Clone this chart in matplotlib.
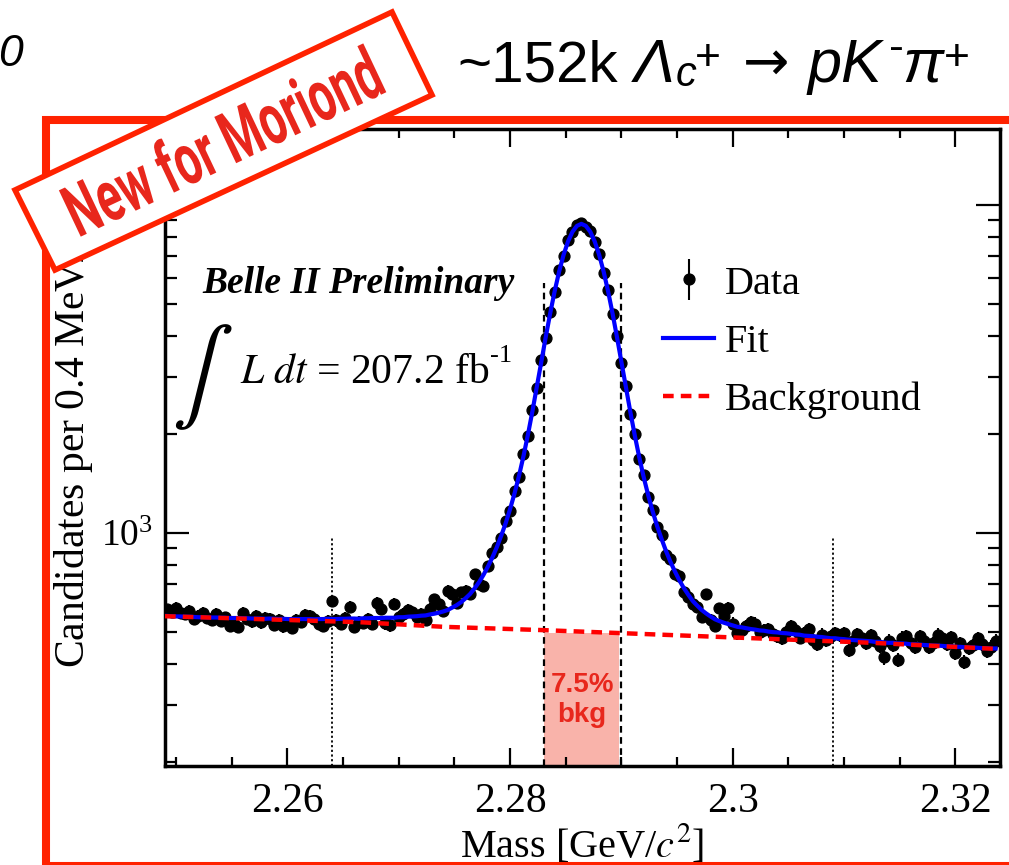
import numpy as np
import matplotlib
matplotlib.use('Agg')
import matplotlib.pyplot as plt
from matplotlib.ticker import MultipleLocator, LogLocator, NullFormatter, FuncFormatter
from matplotlib.patches import Rectangle, Polygon, PathPatch
from matplotlib.textpath import TextPath
from matplotlib.font_manager import FontProperties
from matplotlib.transforms import Affine2D

W, H = 1009, 865

# histogram binning: 0.4 MeV bins starting at 2.249 GeV
bin_start = 2.249
bin_width = 0.0004

counts = [
    585, 575, 592, 570, 566, 578, 548, 560, 571, 552,
    545, 566, 540, 553, 522, 530, 518, 572, 548, 538,
    560, 534, 552, 548, 526, 542, 520, 531, 515, 545,
    536, 563, 558, 549, 528, 522, 538, 620, 542, 530,
    551, 595, 518, 537, 532, 548, 530, 612, 588, 531,
    524, 610, 556, 566, 582, 574, 556, 566, 545, 588,
    628, 606, 580, 668, 650, 612, 660, 668, 650, 748,
    700, 690, 792, 870, 910, 968, 1090, 1170, 1340, 1480,
    1740, 1980, 2380, 2760, 3360, 3930, 4720, 5420, 6320, 7010,
    7800, 8250, 8680, 8790, 8600, 8330, 7700, 7090, 6220, 5500,
    4640, 3990, 3290, 2810, 2310, 2010, 1680, 1500, 1290, 1180,
    1040, 985, 860, 835, 748, 740, 660, 640, 610, 595,
    556, 650, 545, 522, 590, 560, 592, 530, 496, 508,
    520, 535, 530, 498, 506, 510, 492, 485, 478, 500,
    522, 505, 480, 496, 510, 472, 458, 490, 472, 484,
    496, 488, 495, 440, 468, 492, 478, 462, 488, 470,
    452, 418, 470, 455, 410, 480, 486, 462, 450, 485,
    468, 448, 462, 490, 478, 458, 482, 430, 462, 405,
    445, 455, 478, 460, 438, 450, 470,
]

fit_counts = [
    559, 558, 557, 557, 556, 556, 555, 554, 554, 553,
    553, 553, 552, 552, 551, 551, 551, 550, 550, 549,
    549, 549, 548, 549, 548, 547, 548, 547, 547, 547,
    547, 547, 547, 546, 547, 547, 548, 547, 547, 548,
    548, 549, 549, 548, 550, 550, 551, 551, 551, 552,
    552, 552, 554, 554, 556, 557, 558, 560, 561, 565,
    568, 572, 577, 583, 593, 603, 616, 633, 652, 678,
    708, 745, 790, 842, 905, 982, 1072, 1185, 1323, 1496,
    1717, 1997, 2350, 2791, 3327, 3961, 4680, 5461, 6268, 7047,
    7741, 8289, 8639, 8761, 8638, 8287, 7737, 7042, 6262, 5454,
    4671, 3951, 3316, 2779, 2337, 1982, 1701, 1479, 1305, 1165,
    1051, 960, 882, 817, 764, 718, 680, 649, 621, 601,
    583, 569, 557, 546, 539, 533, 528, 523, 518, 516,
    513, 510, 508, 505, 504, 501, 499, 498, 496, 495,
    493, 491, 490, 487, 486, 485, 483, 482, 480, 478,
    478, 476, 475, 473, 472, 471, 470, 469, 468, 466,
    466, 464, 463, 463, 461, 461, 460, 458, 458, 457,
    456, 455, 454, 454, 453, 452, 452, 450, 450, 449,
    448, 448, 447, 446, 446, 445, 445,
]

bkg_mass = [2.249, 2.2665, 2.274, 2.283, 2.3005, 2.3125, 2.324]
bkg_counts = [558, 535, 518, 506, 480, 463, 443]

signal_window = [2.283, 2.290]
window_top = 5800
sidebands = [2.264, 2.309]
sideband_top = 975
box_mass = [2.283, 2.2898]
box_top = 495

xlim = (2.249, 2.324)
ylim = (195, 17050)

plt.rcParams['font.family'] = ['Liberation Serif', 'DejaVu Serif']
plt.rcParams['mathtext.fontset'] = 'stix'


def px(x, y):
    # pixel position (from top-left) -> figure fraction
    return x / W, 1 - y / H


fig = plt.figure(figsize=(W / 100, H / 100), dpi=100)
ax = fig.add_axes([165 / W, (H - 766) / H, 835 / W, 637 / H])

mass = bin_start + bin_width * (np.arange(len(counts)) + 0.5)
counts = np.array(counts)

ax.fill_between(box_mass, [ylim[0]] * 2, [box_top] * 2, color='#f9b3aa', lw=0, zorder=1)
ax.vlines(signal_window, ylim[0], window_top, colors='black', linestyles=(0, (3, 2)), lw=1.6, zorder=2)
ax.vlines(sidebands, ylim[0], sideband_top, colors='black', linestyles=(0, (1.2, 1.4)), lw=1.3, zorder=2)

h_data = ax.errorbar(mass, counts, yerr=np.sqrt(counts), fmt='o', color='black', ms=7.8,
                     elinewidth=1.5, capsize=0, zorder=3, label='Data')
h_fit, = ax.plot(mass, fit_counts, color='#0000ff', lw=3, zorder=4, label='Fit')
h_bkg, = ax.plot(bkg_mass, bkg_counts, color='#ff0000', lw=3.2, ls=(0, (2.4, 1.6)), zorder=5,
                 label='Background')

ax.set_yscale('log')
ax.set_xlim(*xlim)
ax.set_ylim(*ylim)

ax.xaxis.set_major_locator(MultipleLocator(0.02))
ax.xaxis.set_minor_locator(MultipleLocator(0.005))
ax.xaxis.set_major_formatter(FuncFormatter(lambda v, p: f'{v:g}'))
ax.yaxis.set_major_locator(LogLocator(base=10))
ax.yaxis.set_minor_locator(LogLocator(base=10, subs=(2, 3, 4, 5, 6, 7, 8, 9)))
ax.yaxis.set_minor_formatter(NullFormatter())

ax.tick_params(axis='x', which='major', direction='in', length=13, width=1.6,
               top=True, labelsize=30, pad=12)
ax.tick_params(axis='x', which='minor', direction='in', length=6.5, width=1.6, top=True)
ax.tick_params(axis='y', which='major', direction='in', length=17, width=1.6,
               right=True, labelsize=27, pad=9)
ax.tick_params(axis='y', which='minor', direction='in', length=8.5, width=1.6, right=True)
for s in ax.spines.values():
    s.set_linewidth(2.5)

ax.legend([h_data, h_fit, h_bkg], ['Data', 'Fit', 'Background'], loc='upper left',
          bbox_to_anchor=(0.5964, 0.786), frameon=False, fontsize=29,
          handlelength=1.27, handletextpad=0.27, labelspacing=0.52, borderpad=0,
          borderaxespad=0, numpoints=1)

# axis titles, ROOT style
fig.text(*px(582, 857), 'Mass [GeV/$c^2$]', fontsize=29, ha='center', va='baseline')
fig.text(*px(85, 668), 'Candidates per 0.4 MeV/$c^2$', rotation=90, rotation_mode='anchor',
         ha='left', va='baseline', fontsize=30)

# annotations
fig.text(*px(202, 293), 'Belle II Preliminary', fontsize=27, weight='bold', style='italic',
         ha='left', va='baseline')
fig.text(*px(202, 377), r'$\int$', fontsize=66, ha='center', va='center')
lumi = fig.text(*px(240, 383), r'$L\ dt$ = 207.2 fb', fontsize=30, ha='left', va='baseline')
bb = lumi.get_window_extent(renderer=fig.canvas.get_renderer())
fig.text((bb.x1 + 1) / W, 1 - 362 / H, '-1', fontsize=19, ha='left', va='baseline')
fig.text(*px(582, 700), '7.5%\nbkg', fontsize=20, weight='bold', color='#e8271c',
         family=['Liberation Sans', 'DejaVu Sans'], ha='center', va='center', linespacing=1.25)

# slide title
sans = ['Liberation Sans', 'DejaVu Sans']
title_pieces = [
    ('~152k', 457, 82, 42, 'normal', sans),
    ('\u039b', 634, 82, 44, 'italic', sans),
    ('c', 676, 86, 30, 'italic', sans),
    ('+', 695, 70, 32, 'normal', sans),
    ('\u2192', 743, 80, 40, 'normal', ['DejaVu Sans']),
    ('pK', 808, 82, 44, 'italic', sans),
    ('-', 889, 60, 32, 'normal', sans),
    ('\u03c0', 902, 82, 44, 'italic', sans),
    ('+', 944, 70, 32, 'normal', sans),
]
for txt, x, y, size, style, fam in title_pieces:
    fig.text(*px(x, y), txt, fontsize=size, style=style, family=fam, ha='left', va='baseline')
fig.text(*px(23, 66), '0', fontsize=32, style='italic', family=sans, ha='right', va='baseline')

# red frame of the slide
frame = Rectangle(px(46, 866), (1040 - 46) / W, (866 - 119.5) / H, fill=False,
                  ec='#ff2200', lw=5.8, transform=fig.transFigure, zorder=5)
fig.add_artist(frame)

# "New for Moriond" banner
corners = [px(15, 190), px(392, 12), px(432, 95), px(55, 270)]
banner = Polygon(corners, closed=True, fc='white', ec='#ff2200', lw=4,
                 transform=fig.transFigure, zorder=20)
fig.add_artist(banner)

tp = TextPath((0, 0), 'New for Moriond', size=72,
              prop=FontProperties(family=['Roboto', 'DejaVu Sans'], weight='bold'))
ext = tp.get_extents()
sx = 338 / ext.width
tr = (Affine2D().translate(-(ext.x0 + ext.width / 2), -(ext.y0 + ext.height / 2))
      .scale(sx, 1).rotate_deg(25.3).translate(222, H - 140).scale(1 / W, 1 / H)
      + fig.transFigure)
fig.add_artist(PathPatch(tp, fc='#e8271c', ec='none', transform=tr, zorder=21))

fig.savefig('out.png', dpi=100)
